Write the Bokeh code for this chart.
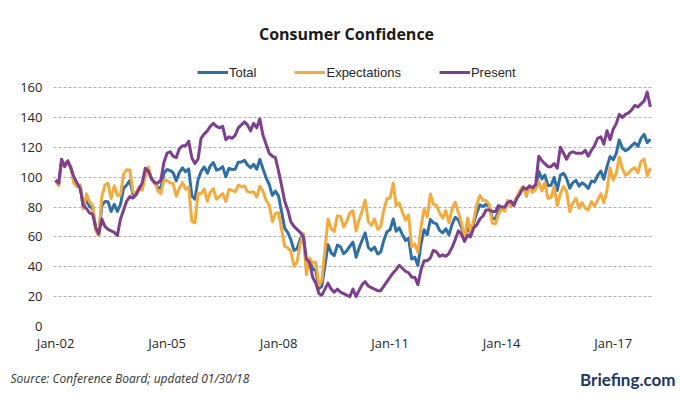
import pandas as pd
from bokeh.plotting import figure
from bokeh.models import (Range1d, FixedTicker, DatetimeTickFormatter, Legend,
                          LegendItem, Label, Title, ColumnDataSource)
from bokeh.embed import file_html
from bokeh.resources import INLINE

# ---------------- data (monthly, Jan-2002 .. Jan-2018) ----------------
first_month = "2002-01-01"

total = [
    97.8, 95.0, 110.7, 108.5, 110.3, 106.3, 97.4, 94.5, 93.7, 79.6, 84.9, 80.3,
    78.8, 64.8, 61.4, 81.0, 83.6, 83.5, 77.0, 81.7, 77.0, 81.7, 92.5, 94.8,
    97.7, 88.5, 88.5, 93.0, 93.1, 102.8, 105.7, 98.7, 96.7, 92.9, 92.6, 102.7,
    105.1, 104.4, 103.0, 97.5, 103.1, 106.2, 103.6, 105.5, 87.5, 85.2, 98.3, 103.8,
    106.8, 102.7, 107.5, 109.8, 104.7, 105.4, 107.0, 100.2, 105.9, 105.1, 105.3, 110.0,
    110.2, 111.2, 108.2, 106.3, 108.5, 105.3, 111.9, 105.6, 99.5, 95.2, 87.8, 90.6,
    87.3, 76.4, 65.9, 62.8, 58.1, 51.0, 51.9, 58.5, 61.4, 38.8, 44.7, 38.6,
    37.4, 25.3, 26.9, 40.8, 54.8, 49.3, 47.4, 54.5, 53.4, 48.7, 50.6, 53.6,
    56.5, 46.4, 52.3, 57.7, 62.7, 52.9, 51.0, 53.2, 48.6, 49.9, 57.8, 63.4,
    64.8, 72.0, 63.8, 66.0, 61.7, 57.6, 59.2, 45.2, 46.4, 40.9, 55.2, 64.8,
    61.5, 71.6, 69.5, 68.7, 64.4, 62.7, 65.4, 61.3, 68.4, 73.1, 71.5, 66.7,
    58.4, 68.0, 61.9, 69.0, 76.2, 81.4, 80.3, 81.8, 80.2, 72.4, 72.0, 77.5,
    79.4, 78.3, 83.9, 81.7, 82.2, 86.4, 90.3, 93.4, 89.0, 94.1, 91.0, 93.1,
    103.8, 98.8, 101.4, 94.3, 94.6, 99.8, 91.0, 101.3, 102.6, 99.1, 92.6, 96.3,
    97.8, 94.0, 96.2, 94.7, 92.4, 97.4, 96.7, 101.1, 104.1, 98.6, 107.1, 113.7,
    111.6, 116.1, 124.9, 119.4, 117.6, 118.9, 121.1, 122.9, 120.6, 125.9, 128.6, 123.1,
    125.4,
]

expectations = [
    97.7, 94.3, 109.8, 109.5, 109.8, 106.5, 95.7, 93.5, 94.8, 78.7, 88.8, 83.2,
    81.3, 64.0, 61.0, 87.0, 94.7, 95.8, 85.7, 94.2, 87.7, 88.2, 102.2, 105.0,
    104.8, 90.2, 88.8, 93.7, 91.2, 100.7, 106.8, 98.5, 97.2, 90.8, 89.0, 97.8,
    97.8, 96.0, 95.7, 87.2, 92.5, 96.3, 92.0, 93.2, 70.5, 69.3, 89.2, 89.0,
    92.0, 83.8, 89.8, 92.3, 85.2, 87.0, 89.0, 83.7, 91.8, 91.2, 90.2, 94.7,
    93.7, 94.0, 90.3, 89.8, 90.2, 86.8, 93.8, 90.7, 84.5, 81.3, 70.3, 75.7,
    76.2, 64.7, 53.8, 52.7, 50.2, 40.3, 43.2, 55.5, 62.3, 34.7, 45.8, 42.3,
    43.0, 27.5, 30.8, 51.3, 72.0, 65.5, 63.7, 74.2, 73.7, 66.5, 70.3, 76.0,
    77.5, 64.0, 71.2, 77.5, 84.5, 70.2, 67.7, 72.0, 65.0, 67.2, 78.3, 85.7,
    86.0, 96.0, 81.0, 82.7, 76.8, 71.3, 74.7, 53.3, 55.3, 49.5, 66.7, 78.7,
    73.2, 88.7, 81.8, 81.2, 76.0, 72.5, 77.7, 69.5, 78.7, 83.2, 76.5, 69.8,
    59.3, 72.7, 63.2, 71.0, 81.7, 87.7, 84.5, 84.3, 81.7, 69.3, 68.7, 75.2,
    79.0, 77.2, 84.5, 80.2, 83.0, 86.7, 91.2, 93.7, 87.0, 94.2, 89.7, 91.8,
    97.0, 90.7, 96.3, 85.8, 86.3, 93.7, 81.0, 88.8, 93.7, 90.5, 77.0, 82.5,
    85.7, 79.3, 83.0, 79.2, 78.0, 83.7, 80.5, 84.5, 88.8, 83.0, 91.2, 106.2,
    98.0, 102.8, 113.5, 105.7, 101.3, 102.8, 105.2, 106.2, 103.0, 110.5, 112.0, 101.0,
    106.0,
]

present = [
    98, 96, 112, 107, 111, 106, 100, 96, 92, 81, 79, 76,
    75, 66, 62, 72, 67, 65, 64, 63, 61, 72, 78, 84,
    87, 86, 88, 92, 96, 106, 104, 99, 96, 96, 98, 110,
    116, 117, 114, 113, 119, 121, 121, 124, 113, 109, 112, 126,
    129, 131, 134, 136, 134, 133, 134, 125, 127, 126, 128, 133,
    135, 137, 135, 131, 136, 133, 139, 128, 122, 116, 114, 113,
    104, 94, 84, 78, 70, 67, 65, 63, 60, 45, 43, 33,
    29, 22, 21, 25, 29, 25, 23, 25, 23, 22, 21, 20,
    25, 20, 24, 28, 30, 27, 26, 25, 24, 24, 27, 30,
    33, 36, 38, 41, 39, 37, 36, 33, 33, 28, 38, 44,
    44, 46, 51, 50, 47, 48, 47, 49, 53, 58, 64, 62,
    57, 61, 60, 66, 68, 72, 74, 78, 78, 77, 77, 81,
    80, 80, 83, 84, 81, 86, 89, 93, 92, 94, 93, 95,
    114, 111, 109, 107, 107, 109, 106, 120, 116, 112, 116, 117,
    116, 116, 116, 118, 114, 118, 121, 126, 127, 122, 131, 125,
    132, 136, 142, 140, 142, 143, 145, 148, 147, 149, 151, 157,
    147,
]

tick_years = [2002, 2005, 2008, 2011, 2014, 2017]
y_ticks = [0, 20, 40, 60, 80, 100, 120, 140, 160]
series_names = ["Total", "Expectations", "Present"]
series_colors = ["#2f6ea6", "#f4aa3c", "#7d3f8e"]

# ---------------- figure ----------------
dates = pd.date_range(first_month, periods=len(total), freq="MS")
src = ColumnDataSource(dict(date=dates, total=total,
                            expectations=expectations, present=present))

FRAME_H = 326            # frame from canvas top down to value 0
PX_PER_UNIT = 239 / 160  # 160 units over 239 px
y_top = FRAME_H / PX_PER_UNIT  # headroom for title and legend inside frame

p = figure(width=680, height=399, output_backend="svg", toolbar_location=None,
           x_axis_type="datetime", title=None,
           x_range=Range1d(pd.Timestamp("2001-12-12"), pd.Timestamp("2018-01-22")),
           y_range=Range1d(0, y_top),
           min_border_left=53, min_border_right=28,
           min_border_top=0, min_border_bottom=73)
p.outline_line_color = None
p.background_fill_color = "white"
p.border_fill_color = "white"

p.xgrid.visible = False
p.ygrid.grid_line_color = "#b0b0b0"
p.ygrid.grid_line_dash = "3 2"
p.ygrid.grid_line_width = 1

p.yaxis.ticker = FixedTicker(ticks=y_ticks)
p.xaxis.ticker = FixedTicker(ticks=[pd.Timestamp(f"{y}-01-01").timestamp() * 1000
                                    for y in tick_years])
p.xaxis.formatter = DatetimeTickFormatter(years="%b-%y", months="%b-%y",
                                          days="%b-%y", hours="%b-%y")
for ax in (p.xaxis, p.yaxis):
    ax.axis_line_color = None
    ax.major_tick_line_color = None
    ax.minor_tick_line_color = None
    ax.major_tick_in = 0
    ax.major_tick_out = 0
    ax.minor_tick_out = 0
    ax.major_label_text_font = "Open Sans"
    ax.major_label_text_font_size = "13px"
    ax.major_label_text_color = "#262626"
p.yaxis.major_label_standoff = 11
p.xaxis.major_label_standoff = 7

renderers = []
for col, color in zip(["total", "expectations", "present"], series_colors):
    r = p.line("date", col, source=src, line_color=color, line_width=3,
               line_join="round")
    renderers.append(r)

legend = Legend(items=[LegendItem(label=n, renderers=[r])
                       for n, r in zip(series_names, renderers)],
                orientation="horizontal", location=(144, 244),
                glyph_width=31, glyph_height=20, label_standoff=1, spacing=38,
                padding=0, margin=0, border_line_color=None,
                background_fill_alpha=0,
                label_text_font="Liberation Sans", label_text_font_size="13px",
                label_text_color="#262626")
p.add_layout(legend)

p.add_layout(Label(x=293, y=293, x_units="screen", y_units="screen",
                   text="Consumer Confidence", text_align="center",
                   text_baseline="alphabetic", text_font="Open Sans",
                   text_font_style="bold", text_font_size="16px",
                   text_color="#1a1a1a"))

# footer: a blank spacer title, then two zero-height titles sharing one row
p.add_layout(Title(text=" ", align="left", standoff=3.2,
                   text_font="Open Sans", text_font_style="italic",
                   text_font_size="12px"), "below")
p.add_layout(Title(text="Source: Conference Board; updated 01/30/18",
                   align="left", offset=-43, standoff=-18.3,
                   text_font="Open Sans", text_font_style="italic",
                   text_font_size="12px", text_color="#333333"), "below")
p.add_layout(Title(text="Briefing.com", align="right", offset=-23, standoff=-22.4,
                   text_font="Lato", text_font_style="bold",
                   text_font_size="17px", text_color="#1c3664"), "below")

open("out.html", "w").write(file_html(p, INLINE))
